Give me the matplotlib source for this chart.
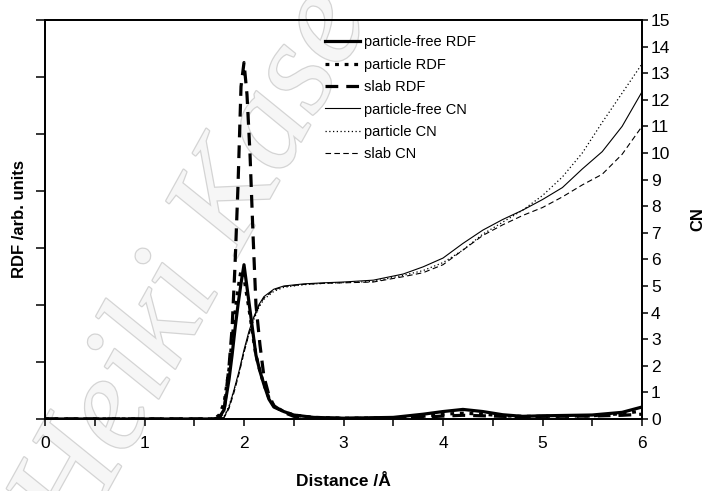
import matplotlib.pyplot as plt
import matplotlib.patheffects as pe
import numpy as np

# distance grids (Angstrom)
r_rdf = [0.0, 1.70, 1.75, 1.80, 1.85, 1.88, 1.91, 1.94, 1.97, 2.00, 2.03, 2.06, 2.09, 2.12,
         2.16, 2.20, 2.25, 2.30, 2.40, 2.50, 2.70, 3.00, 3.50, 3.80, 4.00, 4.20, 4.40, 4.60,
         4.80, 5.00, 5.50, 5.80, 6.00]
r_cn = [0.0, 1.75, 1.80, 1.85, 1.90, 1.95, 2.00, 2.05, 2.10, 2.15, 2.20, 2.30, 2.40, 2.60,
        2.80, 3.00, 3.30, 3.60, 3.80, 4.00, 4.20, 4.40, 4.60, 4.80, 5.00, 5.20, 5.40, 5.60,
        5.80, 6.00]

# RDF, arbitrary units
rdf_free = [0, 0, 0.05, 0.35, 1.5, 2.4, 3.4, 4.3, 5.1, 5.8, 4.95, 4.1, 3.25, 2.4,
            1.8, 1.3, 0.75, 0.45, 0.28, 0.15, 0.06, 0.03, 0.06, 0.18, 0.28, 0.36, 0.28, 0.16,
            0.1, 0.12, 0.15, 0.25, 0.45]
rdf_particle = [0, 0, 0.15, 0.6, 1.9, 3.0, 4.0, 4.9, 5.6, 5.3, 4.6, 3.9, 3.1, 2.4,
                1.8, 1.3, 0.8, 0.5, 0.28, 0.15, 0.06, 0.03, 0.04, 0.1, 0.18, 0.22, 0.18, 0.12,
                0.1, 0.1, 0.12, 0.2, 0.3]
rdf_slab = [0, 0, 0.05, 0.3, 2.0, 3.4, 5.8, 8.8, 12.5, 13.4, 12.2, 10.0, 7.0, 4.3,
            2.8, 1.6, 0.9, 0.5, 0.25, 0.1, 0.04, 0.02, 0.03, 0.07, 0.11, 0.14, 0.12, 0.1,
            0.08, 0.1, 0.11, 0.14, 0.18]

# coordination numbers
cn_free = [0, 0, 0.07, 0.45, 1.1, 1.8, 2.6, 3.3, 3.85, 4.3, 4.6, 4.88, 5.0, 5.08,
           5.12, 5.15, 5.22, 5.45, 5.72, 6.05, 6.6, 7.1, 7.5, 7.85, 8.25, 8.7, 9.4, 10.05,
           11.0, 12.3]
cn_particle = [0, 0, 0.1, 0.5, 1.1, 1.75, 2.5, 3.2, 3.75, 4.2, 4.5, 4.8, 4.95, 5.05,
               5.1, 5.13, 5.17, 5.4, 5.58, 5.88, 6.35, 6.95, 7.4, 7.85, 8.4, 9.1, 10.0, 11.15,
               12.25, 13.35]
cn_slab = [0, 0, 0.05, 0.4, 1.0, 1.7, 2.5, 3.2, 3.8, 4.25, 4.55, 4.85, 4.98, 5.06,
           5.1, 5.12, 5.15, 5.35, 5.5, 5.8, 6.35, 6.9, 7.3, 7.65, 7.95, 8.35, 8.8, 9.2,
           9.95, 11.0]

plt.rcParams['font.family'] = ['Liberation Sans', 'DejaVu Sans']

fig = plt.figure(figsize=(7.04, 4.91), dpi=100)
ax = fig.add_axes([45 / 704, 72 / 491, 597 / 704, 399 / 491])
ax.patch.set_alpha(0)
ax2 = ax.twinx()

# watermark in the background (runs off the top edge, as in the original)
fig.text(78 / 704, 1 - 544 / 491, 'Heiki Kase', fontsize=98, family='Liberation Serif',
         style='italic', rotation=61, rotation_mode='anchor', ha='left', va='baseline',
         color='#f6f6f6', zorder=-1,
         path_effects=[pe.Stroke(linewidth=1.8, foreground='#d4d4d4'), pe.Normal()])

l1, = ax.plot(r_rdf, rdf_free, color='black', lw=2.3, label='particle-free RDF')
l2, = ax.plot(r_rdf, rdf_particle, color='black', lw=2.3, dashes=(1.2, 1.8), label='particle RDF')
l3, = ax.plot(r_rdf, rdf_slab, color='black', lw=2.3, dashes=(4, 2.5), label='slab RDF')
l4, = ax2.plot(r_cn, cn_free, color='black', lw=0.8, label='particle-free CN')
l5, = ax2.plot(r_cn, cn_particle, color='black', lw=0.9, dashes=(1, 2), label='particle CN')
l6, = ax2.plot(r_cn, cn_slab, color='black', lw=0.8, dashes=(5, 3), label='slab CN')

ax.set_xlim(0, 6)
ax.set_ylim(0, 15)
ax2.set_ylim(0, 15)
ax.set_xticks(np.arange(0, 6.01, 0.5))
ax.set_xticklabels(['0', '', '1', '', '2', '', '3', '', '4', '', '5', '', '6'])
ax.set_yticks(np.linspace(0, 15, 8))
ax.set_yticklabels([])
ax2.set_yticks(range(0, 16))

ax.tick_params(axis='x', direction='out', length=5, width=1.1, labelsize=12.5, pad=7)
ax.tick_params(axis='y', direction='out', length=6.5, width=1.1)
ax2.tick_params(axis='y', direction='out', length=4.5, width=1.1, labelsize=12.5, pad=2)
for a in (ax, ax2):
    for s in a.spines.values():
        s.set_linewidth(1.3)

ax.set_xlabel('Distance /Å', fontsize=12.5, fontweight='bold', labelpad=17)
ax.set_ylabel('RDF /arb. units', fontsize=12, fontweight='bold', labelpad=3)
ax2.set_ylabel('CN', fontsize=12, fontweight='bold', labelpad=14)

ax.legend(handles=[l1, l2, l3, l4, l5, l6], loc='upper left', bbox_to_anchor=(0.469, 0.962),
          frameon=False, fontsize=10.5, handlelength=2.4, handletextpad=0.3,
          labelspacing=0.58, borderpad=0, borderaxespad=0)

fig.savefig('out.png', dpi=100)
